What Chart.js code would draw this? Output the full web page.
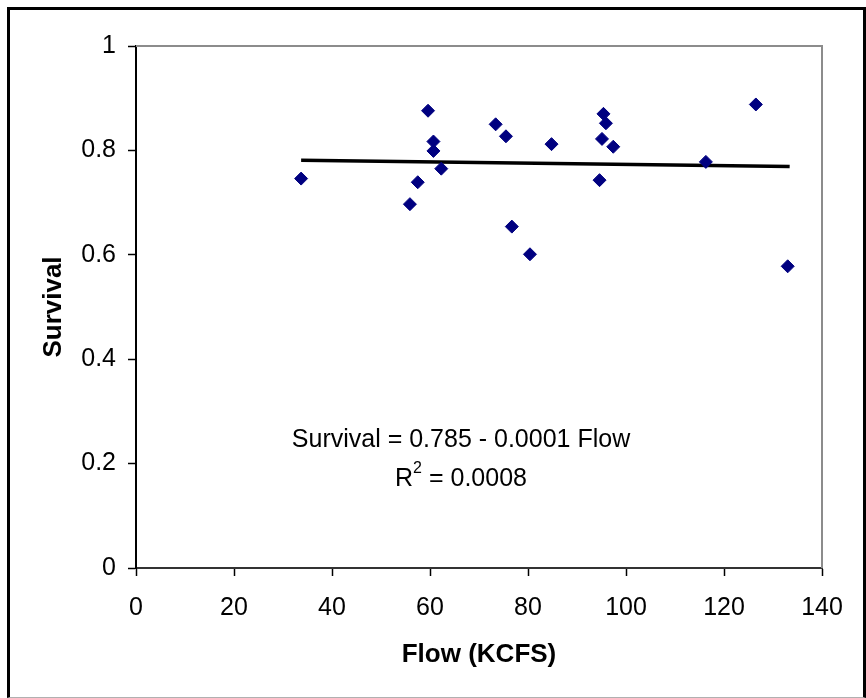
<!DOCTYPE html>
<html>
<head>
<meta charset="utf-8">
<script src="https://cdn.jsdelivr.net/npm/chart.js@4"></script>
<style>
  html, body { margin: 0; padding: 0; background: #fff; }
  #wrap { position: relative; width: 866px; height: 698px; }
  #wrap canvas { position: absolute; left: 0; top: 0; }
  #frame {
    position: absolute; left: 7px; top: 7px; width: 853px; height: 687px;
    border: 3px solid #000; border-bottom: 1px solid #b0b0b0;
    pointer-events: none;
  }
</style>
</head>
<body>
<div id="wrap">
  <canvas id="chart" width="866" height="698"></canvas>
  <div id="frame"></div>
</div>
<script>
// values
const flow = [33.7, 59.6, 60.7, 60.7, 62.3, 57.5, 55.9, 73.4, 75.5, 76.7,
              80.4, 84.8, 95.4, 95.9, 95.1, 97.4, 94.6, 126.5, 116.3, 133.0];
const survival = [0.746, 0.876, 0.817, 0.799, 0.765, 0.739, 0.697, 0.850, 0.827, 0.654,
                  0.601, 0.812, 0.870, 0.852, 0.822, 0.807, 0.743, 0.888, 0.778, 0.578];
const trendFlow = [33.7, 133.4];
const trendSurvival = [0.781, 0.769];
const xTickLabels = ['0', '20', '40', '60', '80', '100', '120', '140'];
const yTickLabels = ['0', '0.2', '0.4', '0.6', '0.8', '1'];
const equationText = 'Survival = 0.785 - 0.0001 Flow';
const r2Value = '0.0008';

const FONT = "'Liberation Sans', Arial, sans-serif";

// grey top/right edge of the plot area + regression label
const plotDecor = {
  id: 'plotDecor',
  afterDatasetsDraw(chart) {
    const {ctx, chartArea: a} = chart;
    ctx.save();
    ctx.strokeStyle = '#8c8c8c';
    ctx.lineWidth = 2;
    ctx.beginPath();
    ctx.moveTo(a.left, a.top);
    ctx.lineTo(a.right, a.top);
    ctx.lineTo(a.right, a.bottom);
    ctx.stroke();

    ctx.fillStyle = '#000';
    ctx.textBaseline = 'middle';
    ctx.textAlign = 'left';
    ctx.font = '25px ' + FONT;
    const cx = 461;
    let w = ctx.measureText(equationText).width;
    ctx.fillText(equationText, cx - w / 2, 440);

    // R² with a raised 2
    const big = '25px ' + FONT, small = '16px ' + FONT;
    const rest = ' = ' + r2Value;
    ctx.font = big;
    const wR = ctx.measureText('R').width;
    const wRest = ctx.measureText(rest).width;
    ctx.font = small;
    const w2 = ctx.measureText('2').width;
    let x = cx - (wR + w2 + wRest) / 2;
    ctx.font = big;
    ctx.fillText('R', x, 479);
    ctx.font = small;
    ctx.fillText('2', x + wR, 469);
    ctx.font = big;
    ctx.fillText(rest, x + wR + w2, 479);
    ctx.restore();
  }
};

const points = flow.map((f, i) => ({x: f, y: survival[i]}));
const trend = trendFlow.map((f, i) => ({x: f, y: trendSurvival[i]}));

new Chart(document.getElementById('chart'), {
  type: 'scatter',
  data: {
    datasets: [{
      label: 'Survival',
      data: points,
      pointStyle: 'rectRot',
      pointRadius: 6.5,
      backgroundColor: '#000080',
      borderColor: '#000080',
      borderWidth: 1,
      order: 1
    }, {
      label: 'Trend',
      type: 'line',
      data: trend,
      borderColor: '#000',
      borderWidth: 3.5,
      pointRadius: 0,
      fill: false,
      order: 2
    }]
  },
  options: {
    responsive: false,
    animation: false,
    layout: { padding: { left: 0, top: 46, right: 44, bottom: 0 } },
    plugins: {
      legend: { display: false },
      tooltip: { enabled: false }
    },
    scales: {
      x: {
        type: 'linear',
        min: 0, max: 140,
        ticks: {
          stepSize: 20,
          color: '#000',
          padding: 17,
          maxRotation: 0,
          font: { family: FONT, size: 25 },
          callback: (v, i) => xTickLabels[i]
        },
        grid: { drawOnChartArea: false, tickLength: 8, tickColor: '#000', tickWidth: 1.5 },
        border: { color: '#333', width: 2 },
        title: {
          display: true,
          text: 'Flow (KCFS)',
          color: '#000',
          font: { family: FONT, size: 26, weight: 'bold' },
          padding: { top: 0, bottom: 28 }
        },
        afterFit: s => { s.height = 130; }
      },
      y: {
        min: 0, max: 1,
        ticks: {
          stepSize: 0.2,
          color: '#000',
          padding: 12,
          font: { family: FONT, size: 25 },
          callback: (v, i) => yTickLabels[i]
        },
        grid: { drawOnChartArea: false, tickLength: 8, tickColor: '#000', tickWidth: 1.5 },
        border: { color: '#000', width: 2 },
        title: {
          display: true,
          text: 'Survival',
          color: '#000',
          font: { family: FONT, size: 26, weight: 'bold' },
          padding: { top: 38, bottom: 0 }
        },
        afterFit: s => { s.width = 136; }
      }
    }
  },
  plugins: [plotDecor]
});
</script>
</body>
</html>
